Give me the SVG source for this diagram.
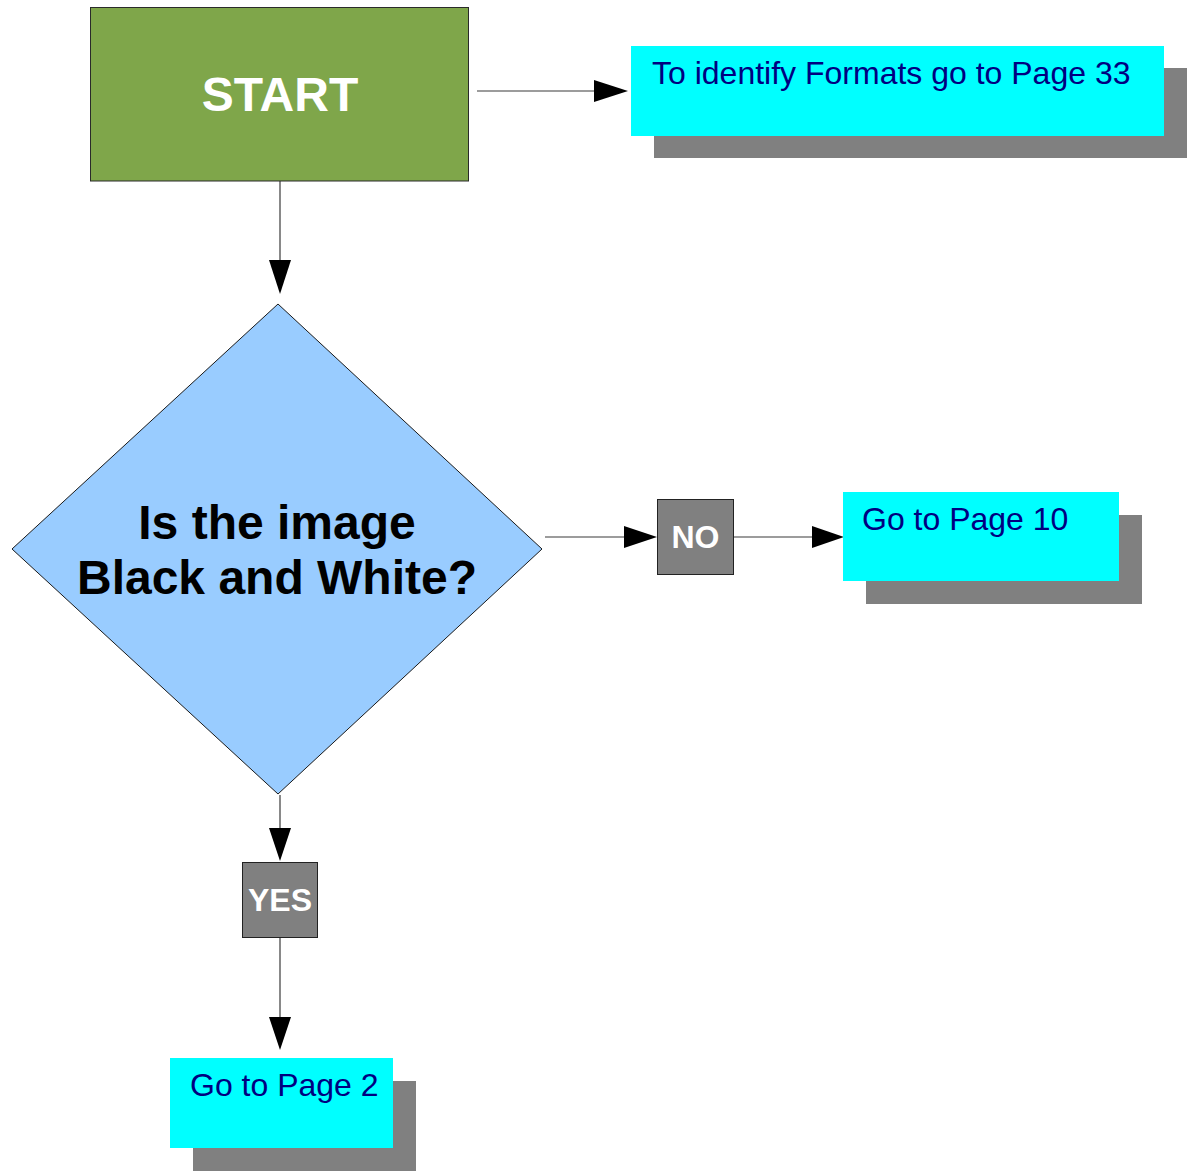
<svg xmlns="http://www.w3.org/2000/svg" width="1192" height="1175" viewBox="0 0 1192 1175">
  <style>
    .edge { stroke: #3a3a3a; stroke-width: 1.2; fill: none; }
    .head { fill: #000000; }
    .shadow { fill: #808080; }
    .page { fill: #00ffff; }
    .pagetext { font-family: "Liberation Sans", Arial, sans-serif; font-size: 32px; fill: #000080; }
    .tag { fill: #808080; stroke: #222222; stroke-width: 1; }
    .tagtext { font-family: "Liberation Sans", Arial, sans-serif; font-size: 32px; font-weight: bold; fill: #ffffff; text-anchor: middle; }
    .bigtext { font-family: "Liberation Sans", Arial, sans-serif; font-size: 48px; font-weight: bold; text-anchor: middle; }
  </style>
  <rect width="1192" height="1175" fill="#ffffff"/>

  <g id="connectors">
    <!-- START to formats note -->
    <line class="edge" x1="477" y1="91" x2="600" y2="91"/>
    <polygon class="head" points="594,80 628,91 594,102"/>
    <!-- START to decision -->
    <line class="edge" x1="280" y1="181" x2="280" y2="265"/>
    <polygon class="head" points="269,260 280,294 291,260"/>
    <!-- decision to NO -->
    <line class="edge" x1="545" y1="537" x2="630" y2="537"/>
    <polygon class="head" points="624,526 657,537 624,548"/>
    <!-- NO to page 10 -->
    <line class="edge" x1="734" y1="537" x2="815" y2="537"/>
    <polygon class="head" points="812,526 844,537 812,548"/>
    <!-- decision to YES -->
    <line class="edge" x1="280" y1="795" x2="280" y2="832"/>
    <polygon class="head" points="269,828 280,861 291,828"/>
    <!-- YES to page 2 -->
    <line class="edge" x1="280" y1="937" x2="280" y2="1020"/>
    <polygon class="head" points="269,1017 280,1050 291,1017"/>
  </g>

  <g id="start">
    <rect x="90.5" y="7.5" width="378" height="173.5" fill="#7fa64a" stroke="#2a2a2a" stroke-width="1"/>
    <text class="bigtext" x="280" y="111" fill="#ffffff">START</text>
  </g>

  <g id="formats-note">
    <rect class="shadow" x="654" y="68" width="533" height="90"/>
    <rect class="page" x="631" y="46" width="533" height="90"/>
    <text class="pagetext" x="652" y="84">To identify Formats go to Page 33</text>
  </g>

  <g id="decision">
    <polygon points="278,304 542,549 278,794 12,549" fill="#99ccff" stroke="#1a1a1a" stroke-width="1"/>
    <text class="bigtext" x="277" y="539" fill="#000000">Is the image</text>
    <text class="bigtext" x="277" y="594" fill="#000000">Black and White?</text>
  </g>

  <g id="no">
    <rect class="tag" x="657.5" y="499.5" width="76" height="75"/>
    <text class="tagtext" x="695.5" y="548">NO</text>
  </g>

  <g id="page10">
    <rect class="shadow" x="866" y="515" width="276" height="89"/>
    <rect class="page" x="843" y="492" width="276" height="89"/>
    <text class="pagetext" x="862" y="530">Go to Page 10</text>
  </g>

  <g id="yes">
    <rect class="tag" x="242.5" y="862.5" width="75" height="75"/>
    <text class="tagtext" x="280" y="911">YES</text>
  </g>

  <g id="page2">
    <rect class="shadow" x="193" y="1081" width="223" height="90"/>
    <rect class="page" x="170" y="1058" width="223" height="90"/>
    <text class="pagetext" x="190" y="1096">Go to Page 2</text>
  </g>
</svg>
